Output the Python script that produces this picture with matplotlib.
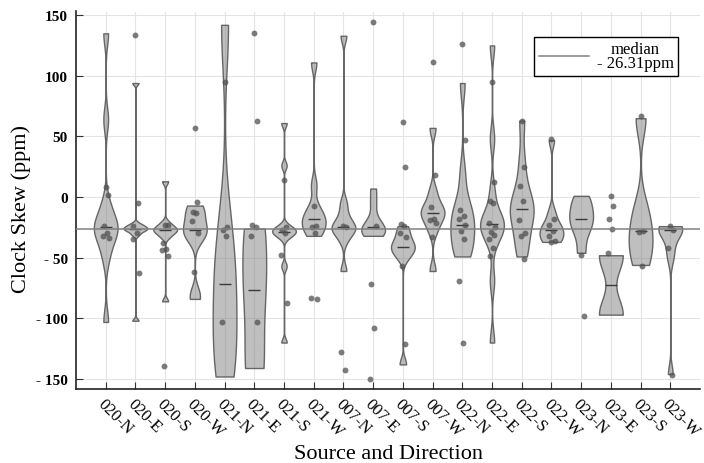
import matplotlib

matplotlib.use("Agg")
import matplotlib.pyplot as plt
import numpy as np

plt.rcParams["font.family"] = ["Liberation Serif", "DejaVu Serif"]

LABELS = [
    "020-N", "020-E", "020-S", "020-W",
    "021-N", "021-E", "021-S", "021-W",
    "007-N", "007-E", "007-S", "007-W",
    "022-N", "022-E", "022-S", "022-W",
    "023-N", "023-E", "023-S", "023-W",
]

# clock skew samples behind each violin (ppm)
SKEW = [
    [135, 64, -5, -15, -22, -25, -27, -30, -38, -50, -103],
    [94, -22, -24, -25, -26, -27, -28, -31, -102],
    [13, -21, -24, -26, -27, -28, -30, -33, -86],
    [-7, -9, -14, -20, -26, -28, -31, -34, -80, -84],
    [142, -22, -60, -72, -110, -130, -148],
    [-26, -77, -141],
    [61, 26, -24, -26, -28, -29, -30, -33, -57, -120],
    [111, 10, -8, -14, -18, -20, -24, -28, -32],
    [133, -5, -15, -22, -25, -26, -28, -35, -61],
    [7, -5, -18, -24, -26, -28, -30, -32],
    [-24, -30, -36, -40, -42, -45, -50, -138],
    [57, 5, -5, -10, -13, -15, -20, -28, -61],
    [94, 20, -3, -10, -16, -23, -25, -32, -40, -46, -49],
    [125, 48, 5, -12, -18, -21, -23, -26, -30, -37, -69, -120],
    [63, 30, 10, 0, -8, -10, -13, -20, -30, -40, -49],
    [47, -12, -20, -25, -27, -29, -33, -37, -37],
    [1, -5, -12, -18, -22, -30, -46],
    [-48, -97],
    [65, -10, -28, -40, -56],
    [-24, -25, -26, -27, -28, -40, -50, -146],
]

# individual measurements shown as dots
POINTS = [
    [8, 2, -24, -30, -32, -34],
    [134, -5, -24, -30, -35, -63],
    [-23, -23, -38, -43, -44, -49, -139],
    [57, -4, -12, -13, -20, -30, -62],
    [95, -25, -27, -32, -103],
    [135, 63, -23, -25, -32, -103],
    [14, -25, -27, -30, -48, -87],
    [-7, -24, -25, -30, -83, -84],
    [-24, -25, -128, -143],
    [144, -24, -72, -108, -150],
    [62, 25, -22, -24, -30, -33, -57, -121],
    [111, 18, -8, -18, -19, -21, -33],
    [126, 47, -11, -16, -18, -23, -28, -35, -69, -120],
    [95, 12, -3, -5, -21, -25, -29, -31, -35, -42, -49],
    [63, 25, 9, -3, -19, -30, -32, -51],
    [48, -18, -23, -28, -32, -36, -37],
    [-48, -98],
    [1, -7, -18, -26, -46],
    [67, -28, -29, -57],
    [-24, -27, -42, -147],
]

OVERALL_MEDIAN = -26.31
Y_TICKS = [-150, -100, -50, 0, 50, 100, 150]
Y_TICK_LABELS = ["- 150", "- 100", "- 50", "0", "50", "100", "150"]

# horizontal spread of the dots around each category
JITTER = [0.0, 0.14, -0.11, 0.07, -0.16, 0.18, -0.05, 0.11, -0.19, 0.04, -0.09, 0.16]


def silverman(kde):
    # Silverman's rule (0.9 * min(sd, IQR/1.34) * n^-1/5), as a factor of sd
    d = kde.dataset.ravel()
    sd = d.std(ddof=1)
    q25, q75 = np.percentile(d, [25, 75])
    width = min(sd, (q75 - q25) / 1.34)
    if width == 0:
        width = sd
    return 0.9 * width * len(d) ** -0.2 / sd


fig = plt.figure(figsize=(7.04, 4.64), dpi=100)
ax = fig.add_axes([76 / 704, 74 / 464, 624 / 704, 377.5 / 464])

pos = np.arange(1, len(LABELS) + 1)
parts = ax.violinplot(SKEW, positions=pos, widths=0.8, points=200,
                      bw_method=silverman, showextrema=False, showmedians=True)
for body in parts["bodies"]:
    body.set_alpha(None)
    body.set_facecolor((0.5, 0.5, 0.5, 0.5))
    body.set_edgecolor((0.35, 0.35, 0.35, 0.9))
    body.set_linewidth(1.0)
    body.set_zorder(2)
parts["cmedians"].set_color("#3a3a3a")
parts["cmedians"].set_linewidth(1.0)
parts["cmedians"].set_zorder(3)

for p, vals in zip(pos, POINTS):
    xs = [p + JITTER[k % len(JITTER)] * 0.6 for k in range(len(vals))]
    ax.scatter(xs, vals, s=18, color="#505050", alpha=0.75, linewidths=0, zorder=4)

ax.axhline(OVERALL_MEDIAN, color="#808080", lw=1.1, zorder=5,
           label="median\n- 26.31ppm")

ax.set_xlim(0, 21)
ax.set_ylim(-158.3, 153)
ax.set_xticks(pos, LABELS, rotation=-45, ha="left", va="top",
              rotation_mode="anchor", fontsize=12)
ax.set_yticks(Y_TICKS, Y_TICK_LABELS, fontsize=11, fontweight="bold")
ax.tick_params(axis="both", direction="in", length=5, width=0.8, color="#333333")
ax.tick_params(axis="x", pad=5)
ax.tick_params(axis="y", pad=6)
ax.grid(True, color="#e4e4e4", lw=0.8)
ax.set_axisbelow(True)
for side in ("top", "right"):
    ax.spines[side].set_visible(False)
for side in ("left", "bottom"):
    ax.spines[side].set_color("#222222")
    ax.spines[side].set_linewidth(1.2)

ax.set_xlabel("Source and Direction", fontsize=16)
ax.xaxis.set_label_coords(0.5, -0.145)
ax.set_ylabel("Clock Skew (ppm)", fontsize=16)
ax.yaxis.set_label_coords(-0.072, 0.48)

leg = ax.legend(loc="upper right", bbox_to_anchor=(0.965, 0.9325), fontsize=12,
                fancybox=False, framealpha=1, edgecolor="black",
                handlelength=3.0, handletextpad=0.5, borderpad=0.25,
                borderaxespad=0)
leg.get_frame().set_linewidth(1.0)
for t in leg.get_texts():
    t.set_multialignment("center")
    t.set_linespacing(0.85)

fig.savefig("out.png", dpi=100)
